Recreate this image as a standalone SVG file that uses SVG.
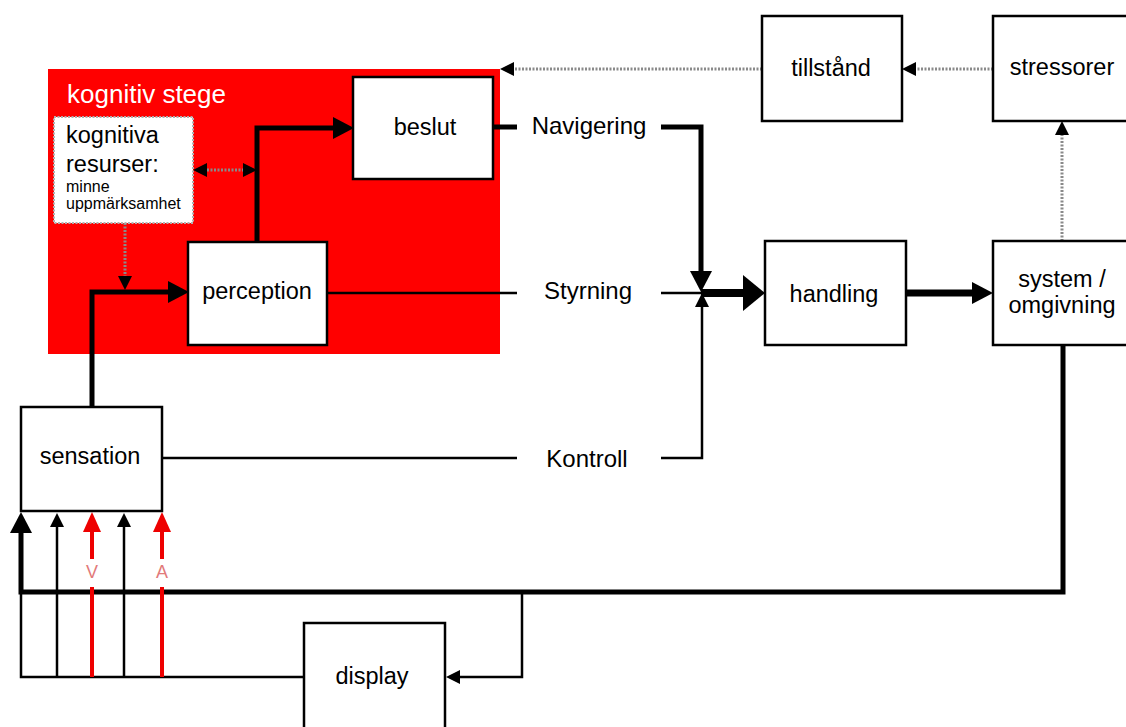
<svg xmlns="http://www.w3.org/2000/svg" width="1126" height="727" viewBox="0 0 1126 727">
<style>
  .box { fill: #ffffff; stroke: #000000; stroke-width: 2.5; }
  .res { fill: #ffffff; stroke: #b0b0b0; stroke-width: 2; stroke-dasharray: 2 1.5; }
  text { font-family: "Liberation Sans", Arial, sans-serif; fill: #000000; }
  .t { font-size: 23.5px; text-anchor: middle; }
  .lbl { font-size: 24px; text-anchor: middle; }
  .thin { fill: none; stroke: #000000; stroke-width: 2.5; }
  .thick { fill: none; stroke: #000000; stroke-width: 5; }
  .xthick { fill: none; stroke: #000000; stroke-width: 8; }
  .dot { fill: none; stroke: #8a8a8a; stroke-width: 3; stroke-dasharray: 2 1.5; }
  .red { fill: none; stroke: #ee0000; stroke-width: 4; }
  .vlbl { font-size: 18px; text-anchor: middle; fill: #e27a7a; }
</style>
<defs>
  <marker id="mBig" viewBox="0 0 10 10" refX="0" refY="5" markerUnits="userSpaceOnUse" markerWidth="22" markerHeight="36" orient="auto" preserveAspectRatio="none">
    <path d="M0,0 L10,5 L0,10 z" fill="#000"/>
  </marker>
  <marker id="mMed" viewBox="0 0 10 10" refX="0" refY="5" markerUnits="userSpaceOnUse" markerWidth="21" markerHeight="22" orient="auto" preserveAspectRatio="none">
    <path d="M0,0 L10,5 L0,10 z" fill="#000"/>
  </marker>
  <marker id="mSmall" viewBox="0 0 10 10" refX="0" refY="5" markerUnits="userSpaceOnUse" markerWidth="14" markerHeight="14" orient="auto-start-reverse" preserveAspectRatio="none">
    <path d="M0,0 L10,5 L0,10 z" fill="#000"/>
  </marker>
  <marker id="mRed" viewBox="0 0 10 10" refX="0" refY="5" markerUnits="userSpaceOnUse" markerWidth="20" markerHeight="18" orient="auto" preserveAspectRatio="none">
    <path d="M0,0 L10,5 L0,10 z" fill="#ee0000"/>
  </marker>
</defs>
<rect x="0" y="0" width="1126" height="727" fill="#ffffff"/>

<g id="kognitiv-stege">
  <rect x="48" y="69" width="452" height="285" fill="#ff0000"/>
  <text x="67" y="103" style="font-size:26px; fill:#ffffff;">kognitiv stege</text>
</g>

<g id="connectors">
  <path class="thick" d="M92,407 V292 H168" marker-end="url(#mMed)"/>
  <path class="thick" d="M257,242 V128 H333" marker-end="url(#mMed)"/>
  <path class="dot" d="M207,170 H243" marker-start="url(#mSmall)" marker-end="url(#mSmall)"/>
  <path class="dot" d="M125,223 V276" marker-end="url(#mSmall)"/>
  <path class="thin" d="M327,293 H517"/>
  <path class="thin" d="M661,293 H701"/>
  <path class="thick" d="M493,127 H517"/>
  <path class="thick" d="M661,127 H701 V271" marker-end="url(#mMed)"/>
  <path class="xthick" d="M701,293 H743" marker-end="url(#mBig)"/>
  <path class="thin" d="M162,458 H517"/>
  <path class="thin" d="M661,458 H702 V307" marker-end="url(#mSmall)"/>
  <path class="xthick" d="M906,293 H972" style="stroke-width:7" marker-end="url(#mMed)"/>
  <path class="dot" d="M1062,241 V135" marker-end="url(#mSmall)"/>
  <path class="dot" d="M993,69 H916" marker-end="url(#mSmall)"/>
  <path class="dot" d="M762,69 H514" marker-end="url(#mSmall)"/>
  <path class="thin" d="M304,677 H21 V592"/>
  <path class="thin" d="M57,677 V527" marker-end="url(#mSmall)"/>
  <path class="thin" d="M124,677 V527" marker-end="url(#mSmall)"/>
  <path class="thin" d="M522,592 V677 H460" marker-end="url(#mSmall)"/>
  <path class="thick" d="M1063,345 V592 H21 V533" marker-end="url(#mMed)"/>
  <path class="red" d="M92,677 V587"/>
  <path class="red" d="M92,559 V532" marker-end="url(#mRed)"/>
  <path class="red" d="M162,677 V587"/>
  <path class="red" d="M162,559 V532" marker-end="url(#mRed)"/>
  <text class="vlbl" x="92" y="578">V</text>
  <text class="vlbl" x="162" y="578">A</text>
  <text class="lbl" x="589" y="134">Navigering</text>
  <text class="lbl" x="588" y="299">Styrning</text>
  <text class="lbl" x="587" y="467">Kontroll</text>
</g>

<g id="kognitiva-resurser">
  <rect class="res" x="54" y="117" width="139" height="106"/>
  <text x="66" y="143" style="font-size:23.5px;">kognitiva</text>
  <text x="66" y="172" style="font-size:23.5px;">resurser:</text>
  <text x="66" y="192" style="font-size:16px;">minne</text>
  <text x="66" y="209" style="font-size:16px;">uppmärksamhet</text>
</g>

<g id="beslut">
  <rect class="box" x="353" y="77" width="140" height="102"/>
  <text class="t" x="425" y="135">beslut</text>
</g>

<g id="perception">
  <rect class="box" x="188" y="242" width="139" height="103"/>
  <text class="t" x="257" y="299">perception</text>
</g>

<g id="sensation">
  <rect class="box" x="21" y="407" width="141" height="104"/>
  <text class="t" x="90" y="464">sensation</text>
</g>

<g id="display">
  <rect class="box" x="304" y="623" width="141" height="110"/>
  <text class="t" x="372" y="684">display</text>
</g>

<g id="tillstand">
  <rect class="box" x="762" y="16" width="140" height="105"/>
  <text class="t" x="831" y="76">tillstånd</text>
</g>

<g id="stressorer">
  <rect class="box" x="993" y="16" width="140" height="105"/>
  <text class="t" x="1062" y="75">stressorer</text>
</g>

<g id="handling">
  <rect class="box" x="765" y="241" width="141" height="104"/>
  <text class="t" x="834" y="302">handling</text>
</g>

<g id="system">
  <rect class="box" x="993" y="241" width="140" height="104"/>
  <text class="t" x="1062" y="287">system /</text>
  <text class="t" x="1062" y="313">omgivning</text>
</g>
</svg>
